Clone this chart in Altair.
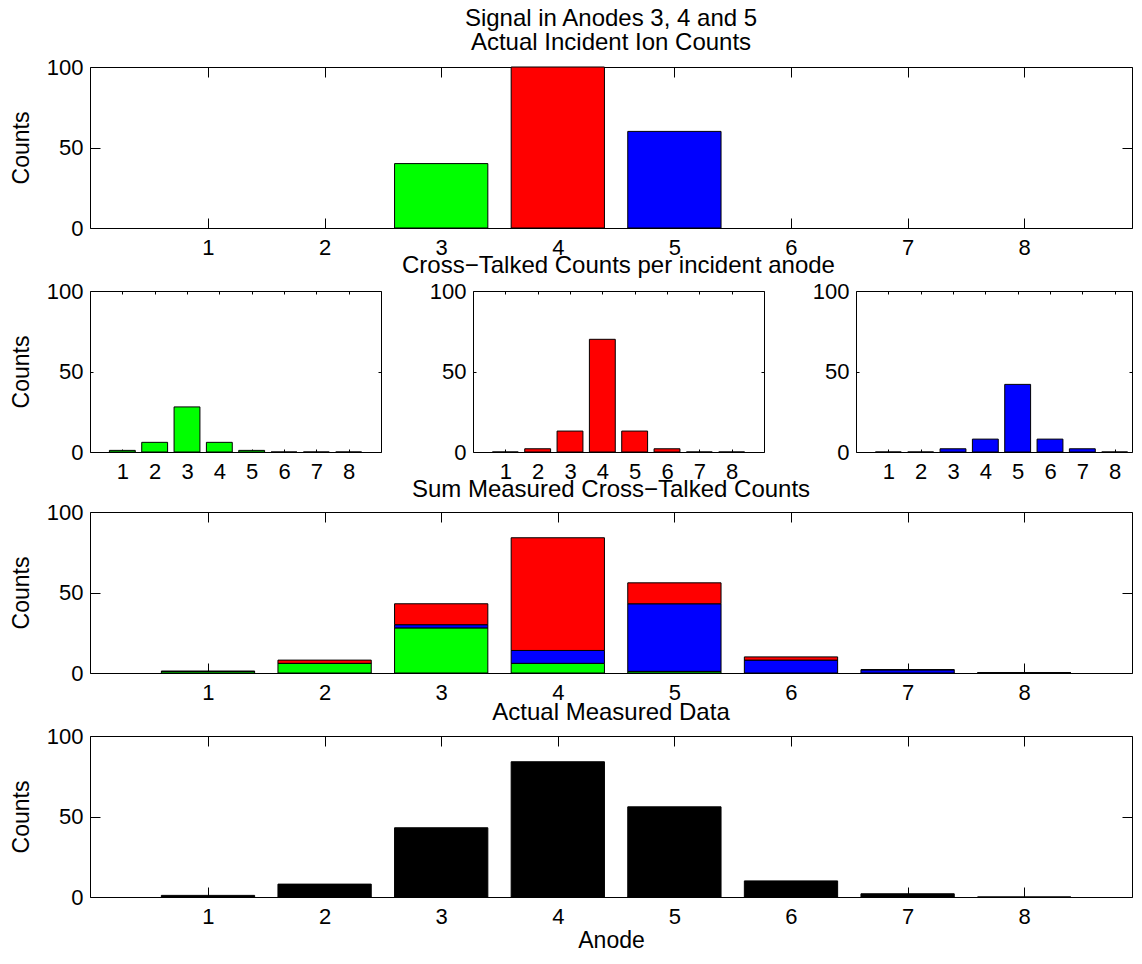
import altair as alt
import pandas as pd

# ---------------- data ----------------
anodes = [1, 2, 3, 4, 5, 6, 7, 8]

# actual incident ion counts (anode, counts, colour)
incident_anode = [3, 4, 5]
incident_counts = [40, 100, 60]
incident_src = ["green", "red", "blue"]

# cross-talked counts per incident anode
green_xtalk = [1, 6, 28, 6, 1, 0, 0, 0]
red_xtalk = [0, 2, 13, 70, 13, 2, 0, 0]
blue_xtalk = [0, 0, 2, 8, 42, 8, 2, 0]

# actual measured data
measured = [1, 8, 43, 84, 56, 10, 2, 0]

y_ticks = [0, 50, 100]
src_names = ["green", "red", "blue", "black"]
src_colors = ["#00ff00", "#ff0000", "#0000ff", "#000000"]

FONT = "Liberation Sans"
FS = 22      # tick labels
FS_T = 24    # titles
FS_AT = 23   # axis titles

df_incident = pd.DataFrame({"anode": incident_anode, "v": incident_counts, "src": incident_src, "ord": [0, 0, 0]})
df_green = pd.DataFrame({"anode": anodes, "v": green_xtalk, "src": "green", "ord": 0})
df_red = pd.DataFrame({"anode": anodes, "v": red_xtalk, "src": "red", "ord": 2})
df_blue = pd.DataFrame({"anode": anodes, "v": blue_xtalk, "src": "blue", "ord": 1})
df_sum = pd.concat([df_green, df_blue, df_red], ignore_index=True)
df_meas = pd.DataFrame({"anode": anodes, "v": measured, "src": "black", "ord": 0})
df_mirror = pd.DataFrame({"anode": anodes, "y": [0] * len(anodes)})

cscale = alt.Scale(domain=src_names, range=src_colors)


def panel(data, w, h, xmin, xmax, tick, title=None, ytitle=None, xtitle=None, stacked=False,
          line_height=27, title_offset=2):
    tk = alt.ExprRef(expr=f"-{tick}")
    xs = alt.Scale(domain=[xmin, xmax], nice=False, zero=False)
    ys = alt.Scale(domain=[0, 100], nice=False, zero=False)
    xa = alt.Axis(values=anodes, orient="bottom", tickSize=tk, title=xtitle,
                  labelPadding=9 + tick, titlePadding=2, format="d")
    ya = alt.Axis(values=y_ticks, orient="left", tickSize=tk, title=ytitle,
                  labelPadding=7 + tick, titlePadding=13, format="d")
    base = alt.Chart(data)
    if stacked:
        base = base.transform_stack(stack="v", groupby=["anode"], as_=["y0", "y1"],
                                    sort=[alt.SortField(field="ord", order="ascending")])
    else:
        base = base.transform_calculate(y0="0", y1="datum.v")
    bars = base.transform_calculate(lo="datum.anode - 0.4", hi="datum.anode + 0.4").mark_bar(
        stroke="black", strokeWidth=1
    ).encode(
        x=alt.X("lo:Q", scale=xs, axis=xa),
        x2="hi:Q",
        y=alt.Y("y0:Q", scale=ys, axis=ya),
        y2="y1:Q",
        color=alt.Color("src:N", scale=cscale, legend=None),
    )
    mirror = alt.Chart(df_mirror).mark_point(opacity=0).encode(
        x=alt.X("anode:Q", scale=xs, axis=alt.Axis(orient="top", values=anodes, labels=False,
                                                   tickSize=tk, title=None)),
        y=alt.Y("y:Q", scale=ys, axis=alt.Axis(orient="right", values=y_ticks, labels=False,
                                               tickSize=tk, title=None)),
    )
    ch = alt.layer(bars, mirror).resolve_axis(x="independent", y="independent")
    props = dict(width=w, height=h)
    if title is not None:
        props["title"] = alt.TitleParams(title, offset=title_offset, lineHeight=line_height)
    return ch.properties(**props)


UNIT = 116.6             # pixels per anode in the wide rows
W = 1042
XMIN = -0.012
XMAX = XMIN + W / UNIT
H = 161
SW = 291                 # small panel width
SUNIT = SW / 9
SW_R = 276

row1 = panel(df_incident, W, H, XMIN, XMAX, 10,
             title=["Signal in Anodes 3, 4 and 5", "Actual Incident Ion Counts"], ytitle="Counts",
             line_height=24, title_offset=1)
p_g = panel(df_green, SW, H, 0, 9, 3, ytitle="Counts")
p_r = panel(df_red, SW, H, 0, 9, 3, title="Cross\u2212Talked Counts per incident anode")
p_b = panel(df_blue, SW_R, H, 0, SW_R / SUNIT, 3)
row2 = alt.hconcat(p_g, p_r, p_b, spacing=92, bounds="flush")
spacer = alt.Chart(df_mirror).mark_point(opacity=0).encode(
    x=alt.X("anode:Q", axis=None), y=alt.Y("y:Q", axis=None)
).properties(width=10, height=95, view=alt.ViewBackground(strokeOpacity=0))
row3 = panel(df_sum, W, H, XMIN, XMAX, 10, title="Sum Measured Cross\u2212Talked Counts",
             ytitle="Counts", stacked=True, title_offset=-1)
row4 = panel(df_meas, W, H, XMIN, XMAX, 10, title="Actual Measured Data", ytitle="Counts",
             xtitle="Anode", title_offset=0)

chart = alt.vconcat(row1, row2, spacer, row3, row4, spacing=63, bounds="flush").properties(
    padding={"left": 1, "top": -2, "right": 0, "bottom": -4}
).configure_view(
    stroke="black", strokeWidth=1
).configure_axis(
    domain=False, grid=False, labelFont=FONT, labelFontSize=FS, labelColor="black",
    titleFont=FONT, titleFontSize=FS_AT, titleFontWeight="normal", titleColor="black",
    tickColor="black", tickWidth=1, labelOverlap=False
).configure_title(
    font=FONT, fontSize=FS_T, fontWeight="normal", color="black"
)

chart.save("out.html", embed_options={"renderer": "svg", "actions": False})
